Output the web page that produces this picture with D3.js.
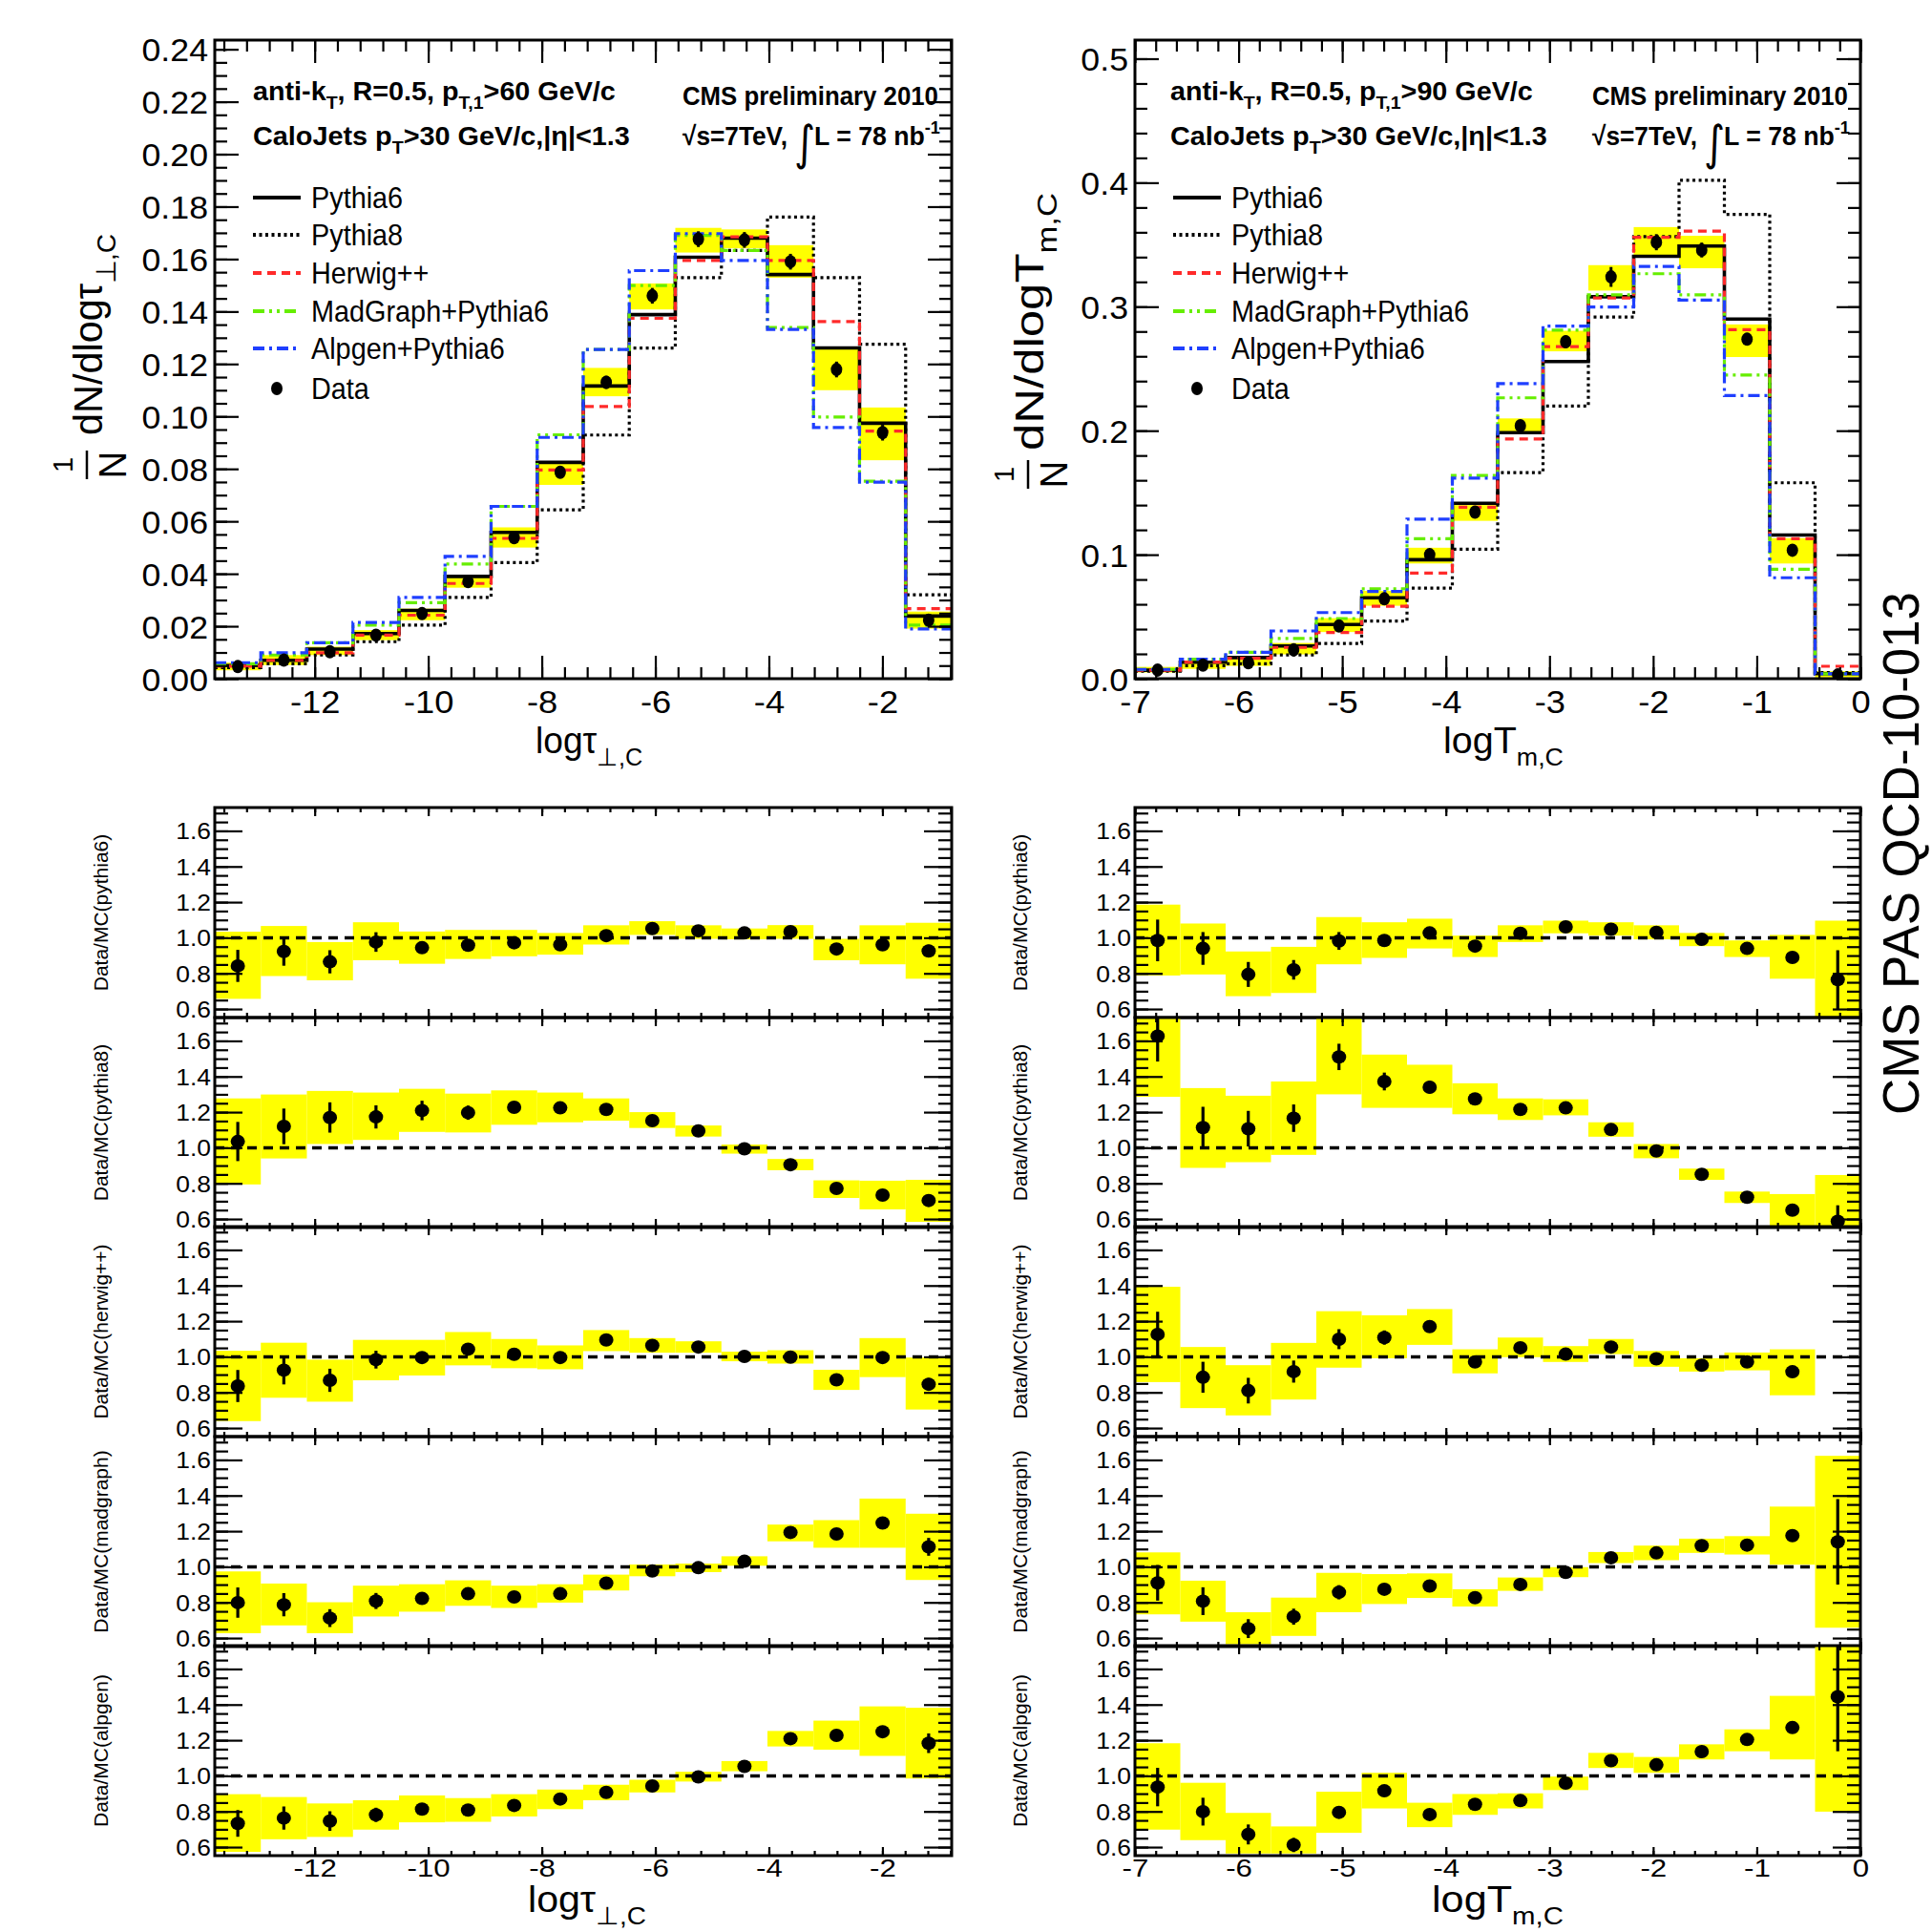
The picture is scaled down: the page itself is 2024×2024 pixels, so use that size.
<!DOCTYPE html>
<html><head><meta charset="utf-8">
<script src="https://cdn.jsdelivr.net/npm/d3@7"></script>
<style>body{margin:0;background:#fff}</style>
</head><body>
<svg id="c" width="2024" height="2024" xmlns="http://www.w3.org/2000/svg"></svg>
<script>
// ---------------- DATA ----------------
const tauEdges = [-13.76,-12.949,-12.138,-11.326,-10.515,-9.704,-8.893,-8.081,-7.27,-6.459,-5.648,-4.836,-4.025,-3.214,-2.403,-1.591,-0.78];
const TEdges   = [-7,-6.5625,-6.125,-5.6875,-5.25,-4.8125,-4.375,-3.9375,-3.5,-3.0625,-2.625,-2.1875,-1.75,-1.3125,-0.875,-0.4375,0];

// top-left: 1/N dN/dlog tau
const tauData    = [0.0046,0.0071,0.0103,0.0166,0.0248,0.037,0.0538,0.0787,0.113,0.146,0.1676,0.1673,0.159,0.1179,0.0938,0.0223];
const tauDataErr = [0.0005,0.0006,0.0007,0.0008,0.001,0.0012,0.0015,0.002,0.0025,0.003,0.003,0.003,0.003,0.003,0.003,0.0015];
const tauSysLo   = [0.0032,0.0052,0.009,0.0147,0.0223,0.0347,0.05,0.0739,0.1077,0.1408,0.1625,0.1641,0.1529,0.11,0.0833,0.0191];
const tauSysHi   = [0.0061,0.009,0.0122,0.0185,0.0267,0.0395,0.0577,0.0825,0.1185,0.1507,0.1719,0.1713,0.1653,0.1257,0.1034,0.0256];
const tauPythia6 = [0.005,0.007,0.0113,0.0172,0.026,0.039,0.0558,0.0825,0.1116,0.1388,0.1607,0.168,0.1541,0.1261,0.0974,0.0239];
const tauPythia8 = [0.0042,0.0057,0.009,0.0141,0.0204,0.031,0.0443,0.0644,0.0929,0.1261,0.1529,0.1633,0.176,0.1529,0.1275,0.032];
const tauHerwig  = [0.0048,0.007,0.0099,0.0166,0.0242,0.0363,0.0535,0.0796,0.1038,0.1374,0.1595,0.1685,0.1595,0.1362,0.0944,0.0267];
const tauMadgraph= [0.0057,0.009,0.0137,0.0204,0.029,0.0437,0.0657,0.093,0.1255,0.1499,0.169,0.1633,0.1339,0.0998,0.0753,0.0204];
const tauAlpgen  = [0.0061,0.0099,0.0137,0.0214,0.031,0.0466,0.0657,0.092,0.1255,0.1556,0.1697,0.1595,0.1332,0.0958,0.0749,0.019];

// top-right: 1/N dN/dlog T_m
const TData    = [0.007,0.011,0.0129,0.0232,0.0425,0.0644,0.1,0.1343,0.204,0.2717,0.324,0.352,0.3457,0.2738,0.1036,0.003];
const TDataErr = [0.001,0.0012,0.0012,0.0015,0.002,0.0025,0.003,0.003,0.004,0.005,0.008,0.0065,0.006,0.005,0.004,0.001];
const TSysLo   = [0.005,0.0079,0.0103,0.0196,0.0376,0.0588,0.0929,0.1273,0.1976,0.264,0.313,0.3406,0.331,0.2594,0.0929,0.001];
const TSysHi   = [0.0095,0.0127,0.0159,0.0288,0.0488,0.0708,0.1056,0.14,0.2099,0.2806,0.3335,0.3642,0.3572,0.2857,0.1133,0.006];
const TPythia6 = [0.0068,0.0133,0.017,0.0264,0.0437,0.0652,0.0959,0.1414,0.1984,0.2558,0.308,0.3406,0.3489,0.29,0.1158,0.004];
const TPythia8 = [0.006,0.0105,0.012,0.0192,0.0284,0.0465,0.073,0.1044,0.1662,0.2198,0.2916,0.3565,0.402,0.3744,0.158,0.005];
const THerwig  = [0.0068,0.0133,0.0164,0.0252,0.0373,0.0584,0.0852,0.1383,0.1933,0.2678,0.307,0.356,0.361,0.2814,0.1128,0.01];
const TMadgraph= [0.0075,0.0157,0.0212,0.0324,0.0485,0.0724,0.1128,0.1639,0.2265,0.2811,0.3095,0.3266,0.3095,0.2449,0.0883,0.004];
const TAlpgen  = [0.0075,0.0157,0.0212,0.0385,0.0533,0.0704,0.1286,0.1618,0.238,0.2844,0.2998,0.3325,0.3054,0.2283,0.0814,0.004];

// ratio panels, left (tau)
const ratioNames = ["Data/MC(pythia6)","Data/MC(pythia8)","Data/MC(herwig++)","Data/MC(madgraph)","Data/MC(alpgen)"];
const tauRatioVal = [
 [0.842,0.923,0.865,0.976,0.944,0.958,0.972,0.961,1.012,1.052,1.039,1.027,1.034,0.937,0.961,0.926],
 [1.035,1.12,1.17,1.173,1.209,1.197,1.227,1.224,1.215,1.152,1.095,0.994,0.905,0.772,0.734,0.704],
 [0.836,0.925,0.868,0.984,0.996,1.043,1.014,0.996,1.095,1.064,1.055,1.002,0.998,0.871,0.996,0.846],
 [0.799,0.787,0.712,0.808,0.822,0.849,0.831,0.849,0.908,0.977,0.995,1.031,1.193,1.184,1.246,1.112],
 [0.733,0.763,0.746,0.781,0.813,0.808,0.834,0.87,0.907,0.943,0.994,1.053,1.209,1.227,1.248,1.183]];
const tauRatioErr = [
 [0.09,0.08,0.065,0.055,0.03,0.02,0.015,0.012,0.012,0.01,0.01,0.01,0.01,0.01,0.012,0.035],
 [0.11,0.1,0.085,0.065,0.055,0.04,0.025,0.015,0.012,0.012,0.01,0.01,0.01,0.01,0.012,0.03],
 [0.09,0.08,0.065,0.05,0.03,0.02,0.015,0.012,0.012,0.01,0.01,0.01,0.01,0.01,0.012,0.035],
 [0.085,0.065,0.05,0.045,0.025,0.015,0.012,0.01,0.01,0.01,0.01,0.01,0.01,0.012,0.012,0.05],
 [0.075,0.065,0.055,0.04,0.025,0.015,0.012,0.01,0.01,0.01,0.01,0.01,0.01,0.012,0.012,0.055]];
const tauRatioLo = [
 [0.657,0.785,0.761,0.874,0.854,0.881,0.896,0.905,0.962,1.016,0.994,0.991,0.994,0.874,0.851,0.77],
 [0.794,0.94,1.021,1.044,1.089,1.086,1.129,1.143,1.152,1.111,1.063,0.967,0.874,0.718,0.654,0.584],
 [0.639,0.77,0.748,0.868,0.895,0.952,0.936,0.93,1.032,1.023,1.023,0.975,0.962,0.814,0.886,0.704],
 [0.627,0.671,0.627,0.721,0.748,0.781,0.769,0.799,0.867,0.947,0.97,1.006,1.143,1.107,1.107,0.926],
 [0.573,0.644,0.657,0.698,0.739,0.742,0.772,0.813,0.863,0.907,0.968,1.026,1.165,1.147,1.112,0.985]];
const tauRatioHi = [
 [1.034,1.066,0.976,1.087,1.035,1.044,1.044,1.027,1.07,1.093,1.07,1.052,1.071,0.994,1.07,1.084],
 [1.277,1.299,1.319,1.31,1.331,1.304,1.322,1.31,1.277,1.2,1.125,1.018,0.937,0.817,0.815,0.82],
 [1.034,1.079,0.984,1.095,1.095,1.139,1.1,1.064,1.15,1.105,1.087,1.029,1.037,0.927,1.105,0.996],
 [0.974,0.906,0.801,0.894,0.902,0.924,0.894,0.902,0.956,1.013,1.018,1.059,1.237,1.262,1.383,1.298],
 [0.897,0.881,0.845,0.863,0.89,0.875,0.897,0.923,0.95,0.978,1.023,1.083,1.252,1.31,1.39,1.382]];

// ratio panels, right (T_m)
const TRatioVal = [
 [0.985,0.94,0.794,0.82,0.982,0.985,1.027,0.953,1.025,1.061,1.048,1.03,0.991,0.94,0.89,0.765],
 [1.627,1.113,1.107,1.166,1.51,1.372,1.34,1.274,1.215,1.224,1.102,0.982,0.851,0.722,0.65,0.587],
 [1.126,0.885,0.81,0.917,1.099,1.108,1.17,0.971,1.051,1.015,1.055,0.989,0.953,0.971,0.916,null],
 [0.91,0.807,0.653,0.72,0.857,0.874,0.892,0.827,0.901,0.968,1.051,1.078,1.119,1.122,1.175,1.14],
 [0.937,0.799,0.671,0.612,0.795,0.916,0.783,0.84,0.861,0.959,1.085,1.062,1.136,1.204,1.271,1.444]];
const TRatioErr = [
 [0.117,0.092,0.07,0.055,0.05,0.03,0.02,0.012,0.012,0.01,0.01,0.01,0.01,0.012,0.012,0.165],
 [0.143,0.117,0.1,0.077,0.074,0.05,0.035,0.015,0.012,0.012,0.01,0.01,0.01,0.01,0.012,0.09],
 [0.127,0.087,0.072,0.062,0.056,0.04,0.025,0.012,0.012,0.01,0.01,0.01,0.01,0.01,0.012,null],
 [0.1,0.078,0.053,0.045,0.04,0.025,0.015,0.012,0.012,0.01,0.01,0.01,0.01,0.01,0.015,0.24],
 [0.108,0.078,0.056,0.04,0.03,0.02,0.012,0.012,0.01,0.01,0.01,0.01,0.01,0.01,0.012,0.306]];
const TRatioLo = [
 [0.788,0.794,0.672,0.69,0.851,0.887,0.94,0.892,0.976,1.025,1.012,0.991,0.953,0.892,0.77,0.555],
 [1.286,0.887,0.919,0.96,1.3,1.224,1.224,1.188,1.156,1.182,1.062,0.941,0.82,0.69,0.561,0.546],
 [0.858,0.712,0.671,0.76,0.939,0.992,1.067,0.907,0.998,0.971,1.015,0.944,0.917,0.924,0.784,null],
 [0.733,0.692,0.565,0.612,0.745,0.791,0.825,0.777,0.865,0.942,1.021,1.037,1.078,1.069,1.012,0.658],
 [0.698,0.639,0.564,0.564,0.68,0.817,0.712,0.781,0.817,0.92,1.044,1.017,1.092,1.138,1.092,0.799]];
const TRatioHi = [
 [1.186,1.08,0.923,0.949,1.116,1.087,1.107,1.012,1.07,1.096,1.087,1.07,1.027,0.985,1.016,1.096],
 [1.9,1.335,1.292,1.372,1.75,1.523,1.466,1.362,1.277,1.272,1.143,1.021,0.883,0.754,0.74,0.847],
 [1.393,1.055,0.953,1.078,1.256,1.233,1.268,1.042,1.108,1.06,1.1,1.033,0.992,1.024,1.042,null],
 [1.081,0.922,0.745,0.827,0.966,0.959,0.963,0.874,0.94,0.998,1.083,1.119,1.158,1.172,1.338,1.623],
 [1.183,0.961,0.792,0.716,0.911,1.017,0.849,0.898,0.902,0.996,1.129,1.106,1.177,1.261,1.449,1.9]];

// tick labels
const tauXTicks = [-12,-10,-8,-6,-4,-2];
const TXTicks   = [-7,-6,-5,-4,-3,-2,-1,0];
const tauYTicks = [0,0.02,0.04,0.06,0.08,0.10,0.12,0.14,0.16,0.18,0.20,0.22,0.24];
const TYTicks   = [0,0.1,0.2,0.3,0.4,0.5];
const ratioYTicks = [0.6,0.8,1.0,1.2,1.4,1.6];
const legendNames = ["Pythia6","Pythia8","Herwig++","MadGraph+Pythia6","Alpgen+Pythia6","Data"];

// ---------------- DRAWING ----------------
const FONT = "'Liberation Sans', Arial, Helvetica, sans-serif";
const svg = d3.select('#c');
svg.append('rect').attr('width',2024).attr('height',2024).attr('fill','#fff');
const defs = svg.append('defs');

const styles = {
  py6: {stroke:'#000', w:3.6, dash:null},
  py8: {stroke:'#000', w:3.2, dash:'3,3.5'},
  hw:  {stroke:'#ff2a2a', w:3.2, dash:'9,6'},
  mg:  {stroke:'#66ee00', w:3.2, dash:'12,5,3,5,3,5'},
  al:  {stroke:'#1f3fff', w:3.2, dash:'12,5,3,5'}
};
const legendStyles = [styles.py6, styles.py8, styles.hw, styles.mg, styles.al];

function rich(parent, x, y, segs, o) {
  const g = parent.append('g').attr('transform', `translate(${x},${y})` + (o.rotate ? ` rotate(${o.rotate})` : ''));
  const t = g.append('text').attr('font-family', o.family || FONT).attr('font-size', o.size)
    .attr('font-weight', o.weight || 'normal').attr('text-anchor', o.anchor || 'start').attr('fill', '#000');
  let shift = 0;
  segs.forEach(s => {
    if (typeof s === 'string') s = {t: s};
    const target = s.sub ? o.size * 0.33 : (s.sup ? -o.size * 0.42 : 0);
    const ts = t.append('tspan').text(s.t).attr('dy', target - shift);
    if (s.sub || s.sup) ts.attr('font-size', o.size * 0.68);
    shift = target;
  });
  let sx = o.sx || 1;
  if (o.width) { const w = t.node().getComputedTextLength(); if (w > 0) sx = o.width / w; }
  t.attr('transform', `scale(${sx},1)`);
  return t;
}

function ticks(g, x, y, o) {
  const [xl, xr] = x.range(), [yb, yt] = y.range();
  const mk = (fn, sc, vals, len, pos) => {
    const gg = g.append('g').attr('transform', pos)
      .call(fn(sc).tickValues(vals).tickSize(-len).tickFormat(() => ''));
    gg.select('.domain').remove();
    gg.selectAll('line').attr('stroke', '#000').attr('stroke-width', 2.2);
  };
  mk(d3.axisBottom, x, o.xMaj, o.xMajLen, `translate(0,${yb})`);
  mk(d3.axisBottom, x, o.xMin, o.xMinLen, `translate(0,${yb})`);
  mk(d3.axisTop, x, o.xMaj, o.xMajLen, `translate(0,${yt})`);
  mk(d3.axisTop, x, o.xMin, o.xMinLen, `translate(0,${yt})`);
  mk(d3.axisLeft, y, o.yMaj, o.yMajLen, `translate(${xl},0)`);
  mk(d3.axisLeft, y, o.yMin, o.yMinLen, `translate(${xl},0)`);
  mk(d3.axisRight, y, o.yMaj, o.yMajLen, `translate(${xr},0)`);
  mk(d3.axisRight, y, o.yMin, o.yMinLen, `translate(${xr},0)`);
}

function xLabels(g, x, vals, yBase, size, sx, fmt) {
  const gg = g.append('g').attr('transform', `translate(0,${yBase})`)
    .call(d3.axisBottom(x).tickValues(vals).tickSize(0).tickPadding(0).tickFormat(fmt));
  gg.select('.domain').remove();
  gg.selectAll('text').attr('y', 0).attr('dy', 0).attr('fill', '#000')
    .attr('font-family', FONT).attr('font-size', size).attr('transform', `scale(${sx},1)`);
}
function yLabels(g, y, vals, xRight, size, sx, fmt) {
  const gg = g.append('g').attr('transform', `translate(${xRight},0)`)
    .call(d3.axisLeft(y).tickValues(vals).tickSize(0).tickPadding(0).tickFormat(fmt));
  gg.select('.domain').remove();
  gg.selectAll('text').attr('x', 0).attr('dy', '0.36em').attr('fill', '#000')
    .attr('font-family', FONT).attr('font-size', size).attr('transform', `scale(${sx},1)`);
}

function rangeStep(a, b, s) { const out = []; for (let i = 0; ; i++) { const v = +(a + i * s).toFixed(6); if (v > b + 1e-9) break; out.push(v); } return out; }

function stepPoints(edges, vals) {
  const p = vals.map((v, i) => [edges[i], v]);
  p.push([edges[edges.length - 1], vals[vals.length - 1]]);
  return p;
}

// ---------- top panels ----------
function topPanel(c) {
  const g = svg.append('g');
  const x = d3.scaleLinear().domain(c.xDom).range([c.left, c.right]);
  const y = d3.scaleLinear().domain(c.yDom).range([711, 42]);
  const cid = 'clip' + c.id;
  defs.append('clipPath').attr('id', cid).append('rect')
    .attr('x', c.left).attr('y', 42).attr('width', c.right - c.left).attr('height', 711 - 42);
  const inner = g.append('g').attr('clip-path', `url(#${cid})`);
  inner.selectAll('rect.band').data(c.lo).join('rect')
    .attr('x', (d, i) => x(c.edges[i])).attr('width', (d, i) => x(c.edges[i + 1]) - x(c.edges[i]))
    .attr('y', (d, i) => y(c.hi[i])).attr('height', (d, i) => y(c.lo[i]) - y(c.hi[i]))
    .attr('fill', '#ffff00');
  const line = d3.line().x(d => x(d[0])).y(d => y(d[1])).curve(d3.curveStepAfter);
  [['py8', c.py8], ['py6', c.py6], ['hw', c.hw], ['mg', c.mg], ['al', c.al]].forEach(([k, vals]) => {
    const s = styles[k];
    inner.append('path').attr('d', line(stepPoints(c.edges, vals))).attr('fill', 'none')
      .attr('stroke', s.stroke).attr('stroke-width', s.w).attr('stroke-dasharray', s.dash);
  });
  const cx = i => (x(c.edges[i]) + x(c.edges[i + 1])) / 2;
  inner.selectAll('line.err').data(c.data).join('line')
    .attr('x1', (d, i) => cx(i)).attr('x2', (d, i) => cx(i))
    .attr('y1', (d, i) => y(d - c.err[i]) + 0).attr('y2', (d, i) => y(d + c.err[i]))
    .attr('stroke', '#000').attr('stroke-width', 3);
  inner.selectAll('ellipse.pt').data(c.data).join('ellipse')
    .attr('cx', (d, i) => cx(i)).attr('cy', d => y(d)).attr('rx', 6).attr('ry', 7).attr('fill', '#000');
  ticks(g, x, y, c.ticks);
  g.append('rect').attr('x', c.left).attr('y', 42).attr('width', c.right - c.left).attr('height', 669)
    .attr('fill', 'none').attr('stroke', '#000').attr('stroke-width', 3);
  xLabels(g, x, c.xTicks, 747, 33, 1.1, d => String(d));
  yLabels(g, y, c.yTicks, c.left - 7, 34, 1.05, c.yFmt);
  // legend
  const rows = [218, 257, 297, 337, 376, 418];
  legendNames.forEach((n, i) => {
    const cy = rows[i] - 11;
    if (i < 5) {
      const s = legendStyles[i];
      g.append('line').attr('x1', c.legX).attr('x2', c.legX + 50).attr('y1', cy).attr('y2', cy)
        .attr('stroke', s.stroke).attr('stroke-width', s.w + 0.6).attr('stroke-dasharray', s.dash);
    } else {
      g.append('ellipse').attr('cx', c.legX + 25).attr('cy', cy).attr('rx', 6).attr('ry', 7).attr('fill', '#000');
    }
    rich(g, c.legX + 61, rows[i], [n], {size: 31, sx: 0.93});
  });
  // header
  const h = c.hdr;
  rich(g, h.x1, 105, ['anti-k', {t: 'T', sub: 1}, ', R=0.5, p', {t: 'T,1', sub: 1}, h.cut], {size: 28, weight: 'bold', width: 380});
  rich(g, h.x1, 152, ['CaloJets p', {t: 'T', sub: 1}, '>30 GeV/c,|η|<1.3'], {size: 28, weight: 'bold', width: 395});
  rich(g, h.x2, 110, ['CMS preliminary 2010'], {size: 28, weight: 'bold', width: 268});
  rich(g, h.x2, 152, ['√s=7TeV,'], {size: 28, weight: 'bold', width: 110});
  rich(g, h.x2 + 117, 167, ['∫'], {size: 50, family: "'DejaVu Sans', sans-serif", sx: 0.85});
  rich(g, h.x2 + 138, 152, ['L = 78 nb', {t: '-1', sup: 1}], {size: 28, weight: 'bold', width: 132});
  // axis titles
  rich(g, c.xtX, 789, c.xtSegs, {size: 38, width: c.xtW});
  // y title (rotated) with 1/N fraction
  const yt = c.yt;
  rich(g, yt.base, yt.start, c.ytSegs, {size: 42, rotate: -90, width: yt.len});
  rich(g, yt.base - 31, yt.fy, ['1'], {size: 29, rotate: -90, anchor: 'middle'});
  rich(g, yt.base + 25, yt.fy, ['N'], {size: 40, rotate: -90, anchor: 'middle'});
  g.append('line').attr('x1', yt.base - 16).attr('x2', yt.base - 16).attr('y1', yt.fy - 15).attr('y2', yt.fy + 15)
    .attr('stroke', '#000').attr('stroke-width', 2.5);
}

const tauTicks = {
  xMaj: tauXTicks, xMin: rangeStep(-13.6, -0.8, 0.4), xMajLen: 24, xMinLen: 12,
  yMaj: tauYTicks, yMin: rangeStep(0, 0.24, 0.005), yMajLen: 25, yMinLen: 13
};
const TTicks = {
  xMaj: TXTicks, xMin: rangeStep(-7, 0, 0.2), xMajLen: 24, xMinLen: 12,
  yMaj: TYTicks, yMin: rangeStep(0, 0.5, 0.02), yMajLen: 25, yMinLen: 13
};

topPanel({id: 'TL', xDom: [-13.76, -0.78], yDom: [0, 0.2435], left: 225, right: 997, edges: tauEdges,
  data: tauData, err: tauDataErr, lo: tauSysLo, hi: tauSysHi,
  py6: tauPythia6, py8: tauPythia8, hw: tauHerwig, mg: tauMadgraph, al: tauAlpgen,
  ticks: tauTicks, xTicks: tauXTicks, yTicks: tauYTicks, yFmt: d => d.toFixed(2),
  legX: 265, hdr: {x1: 265, x2: 715, cut: '>60 GeV/c'},
  xtX: 561, xtW: 112, xtSegs: ['logτ', {t: '⊥,C', sub: 1}],
  yt: {base: 107, start: 456, len: 212, fy: 487}, ytSegs: ['dN/dlogτ', {t: '⊥,C', sub: 1}]});

topPanel({id: 'TR', xDom: [-7, 0], yDom: [0, 0.515], left: 1189, right: 1949, edges: TEdges,
  data: TData, err: TDataErr, lo: TSysLo, hi: TSysHi,
  py6: TPythia6, py8: TPythia8, hw: THerwig, mg: TMadgraph, al: TAlpgen,
  ticks: TTicks, xTicks: TXTicks, yTicks: TYTicks, yFmt: d => d.toFixed(1),
  legX: 1229, hdr: {x1: 1226, x2: 1668, cut: '>90 GeV/c'},
  xtX: 1512, xtW: 126, xtSegs: ['logT', {t: 'm,C', sub: 1}],
  yt: {base: 1093, start: 472, len: 270, fy: 497}, ytSegs: ['dN/dlogT', {t: 'm,C', sub: 1}]});

// ---------- ratio panels ----------
const ratioTops = [846, 1066, 1285, 1505, 1724];
const RH = 220;
function ratioPanel(side, k) {
  const top = ratioTops[k];
  const g = svg.append('g');
  const x = d3.scaleLinear().domain(side.xDom).range([side.left, side.right]);
  const y = d3.scaleLinear().domain([0.552, 1.731]).range([top + RH, top]);
  const cid = 'rclip' + side.id + k;
  defs.append('clipPath').attr('id', cid).append('rect')
    .attr('x', side.left).attr('y', top).attr('width', side.right - side.left).attr('height', RH);
  const inner = g.append('g').attr('clip-path', `url(#${cid})`);
  const v = side.val[k], e = side.err[k], lo = side.lo[k], hi = side.hi[k], ed = side.edges;
  const idx = d3.range(v.length).filter(i => v[i] !== null);
  inner.selectAll('rect.band').data(idx).join('rect')
    .attr('x', i => x(ed[i])).attr('width', i => x(ed[i + 1]) - x(ed[i]))
    .attr('y', i => y(hi[i])).attr('height', i => y(lo[i]) - y(hi[i])).attr('fill', '#ffff00');
  inner.append('line').attr('x1', side.left).attr('x2', side.right).attr('y1', y(1)).attr('y2', y(1))
    .attr('stroke', '#000').attr('stroke-width', 3.5).attr('stroke-dasharray', '10,7');
  const cx = i => (x(ed[i]) + x(ed[i + 1])) / 2;
  inner.selectAll('line.err').data(idx).join('line')
    .attr('x1', cx).attr('x2', cx).attr('y1', i => y(v[i] - e[i])).attr('y2', i => y(v[i] + e[i]))
    .attr('stroke', '#000').attr('stroke-width', 3.2);
  inner.selectAll('ellipse.pt').data(idx).join('ellipse')
    .attr('cx', cx).attr('cy', i => y(v[i])).attr('rx', 7.5).attr('ry', 7).attr('fill', '#000');
  ticks(g, x, y, {xMaj: side.xMaj, xMin: side.xMin, xMajLen: 9, xMinLen: 5,
    yMaj: ratioYTicks, yMin: rangeStep(0.6, 1.7, 0.05), yMajLen: 29, yMinLen: 14});
  g.append('rect').attr('x', side.left).attr('y', top).attr('width', side.right - side.left).attr('height', RH)
    .attr('fill', 'none').attr('stroke', '#000').attr('stroke-width', 3);
  yLabels(g, y, ratioYTicks, side.left - 4, 23, 1.15, d => d.toFixed(1));
  rich(g, side.titleX, top + RH / 2, [ratioNames[k]], {size: 21, rotate: -90, anchor: 'middle'});
  if (k === 4) {
    xLabels(g, x, side.xMaj, 1966, 25, 1.25, d => String(d));
    rich(g, side.xtX, 2003, side.xtSegs, {size: 38, width: side.xtW});
  }
}
const leftSide = {id: 'L', xDom: [-13.76, -0.78], left: 225, right: 997, edges: tauEdges,
  val: tauRatioVal, err: tauRatioErr, lo: tauRatioLo, hi: tauRatioHi,
  xMaj: tauXTicks, xMin: rangeStep(-13.6, -0.8, 0.4), titleX: 113,
  xtX: 553, xtW: 124, xtSegs: ['logτ', {t: '⊥,C', sub: 1}]};
const rightSide = {id: 'R', xDom: [-7, 0], left: 1189, right: 1949, edges: TEdges,
  val: TRatioVal, err: TRatioErr, lo: TRatioLo, hi: TRatioHi,
  xMaj: TXTicks, xMin: rangeStep(-7, 0, 0.2), titleX: 1076,
  xtX: 1500, xtW: 138, xtSegs: ['logT', {t: 'm,C', sub: 1}]};
for (let k = 0; k < 5; k++) { ratioPanel(leftSide, k); ratioPanel(rightSide, k); }

// side label
rich(svg, 2010, 894, ['CMS PAS QCD-10-013'], {size: 53, rotate: -90, anchor: 'middle', width: 548});
</script>
</body></html>
